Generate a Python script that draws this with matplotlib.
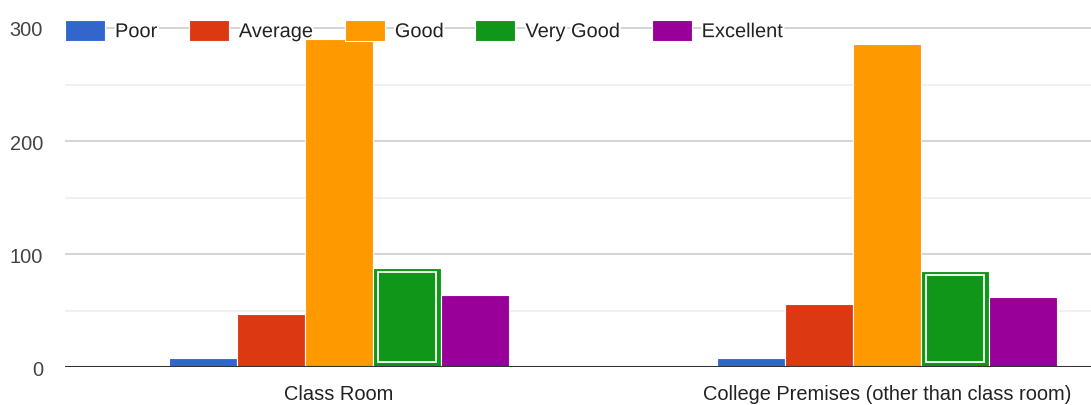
import matplotlib
matplotlib.use("Agg")
import matplotlib.pyplot as plt
import matplotlib.patheffects as pe
import numpy as np

categories = ["Class Room", "College Premises (other than class room)"]
series_names = ["Poor", "Average", "Good", "Very Good", "Excellent"]
poor = [8, 8]
average = [47, 56]
good = [290, 286]
very_good = [88, 85]
excellent = [64, 62]
y_ticks = [0, 100, 200, 300]
y_minor = [50, 150, 250]

series_values = [poor, average, good, very_good, excellent]
colors = ["#3366cc", "#dc3912", "#ff9900", "#109618", "#990099"]

plt.rcParams["font.family"] = ["Liberation Sans", "DejaVu Sans"]
FS = 14.4  # 20 px at 100 dpi

W, H = 1091, 406
fig = plt.figure(figsize=(W / 100, H / 100), dpi=100)
ax = fig.add_axes([65 / W, 37.7 / H, 1096 / W, 368.3 / H])
ax.set_ylim(0, 325.6)
ax.set_xlim(-0.5, 1.5)

x = np.arange(len(categories))
pitch = 68 / 548
for i, (name, vals, col) in enumerate(zip(series_names, series_values, colors)):
    pos = x + (i - 2) * pitch
    ax.bar(pos, vals, width=pitch, color=col, edgecolor="white",
           linewidth=0.8, label=name, zorder=3)
    if name == "Very Good":
        # selection-style inner outline
        px_per_unit = 368.3 / 325.6
        top_in = 4 / px_per_unit
        bot_in = 5 / px_per_unit
        inner = [v - top_in - bot_in for v in vals]
        ax.bar(pos, inner, bottom=bot_in, width=58 / 548, fill=False,
               edgecolor="white", linewidth=1.3, zorder=4)

# grid lines
for t in y_ticks[1:]:
    ax.axhline(t, color="#d4d4d4", linewidth=1.4, zorder=1)
for t in y_minor:
    ax.axhline(t, color="#ededed", linewidth=1.2, zorder=1)
ax.axhline(0, color="#333333", linewidth=1.5, zorder=5)

for s in ax.spines.values():
    s.set_visible(False)

ax.set_yticks(y_ticks)
ax.set_yticklabels([str(t) for t in y_ticks], fontsize=FS, color="#444444")
ax.tick_params(axis="y", length=0, pad=15.8)
ax.set_xticks(x)
ax.set_xticklabels(categories, fontsize=FS, color="#222222")
ax.tick_params(axis="x", length=0, pad=12)

leg = fig.legend(loc="center left", bbox_to_anchor=(65 / W, 1 - 31.5 / H),
                 ncol=5, frameon=False, fontsize=FS, handlelength=2.0,
                 handleheight=1.25, handletextpad=0.5, columnspacing=1.58,
                 borderpad=0, borderaxespad=0)
for txt in leg.get_texts():
    txt.set_color("#222222")
    txt.set_path_effects([pe.withStroke(linewidth=3, foreground="white")])
for h in leg.legend_handles:
    h.set_edgecolor("white")
    h.set_linewidth(0.8)

fig.savefig("out.png", dpi=100)
